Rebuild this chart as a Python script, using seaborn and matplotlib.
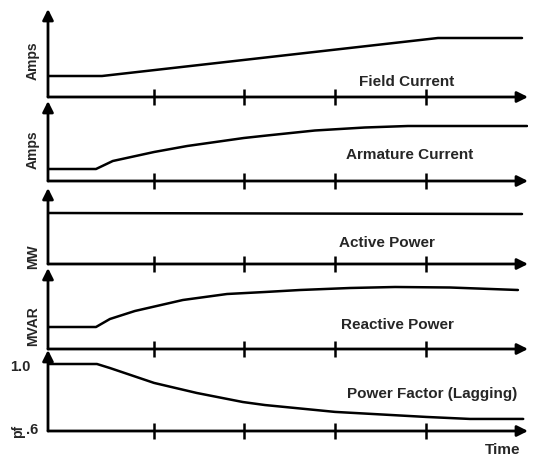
import numpy as np
import pandas as pd
import matplotlib
matplotlib.use("Agg")
import matplotlib.pyplot as plt
import seaborn as sns

sns.set_style("white")
plt.rcParams['font.family'] = ['Liberation Sans', 'DejaVu Sans']

# time axis in arbitrary units (0 .. 100)
tick_times = [22.1, 40.8, 59.8, 78.75]

# Field current (arbitrary amps)
field_t = [0, 11.25, 81.25, 98.75]
field_v = [21, 21, 59, 59]

# Armature current (arbitrary amps)
arm_t = [0, 10, 13.5, 22.1, 29, 40.8, 45.6, 55.6, 66, 75, 99.8]
arm_v = [12, 12, 20, 29, 35, 43, 45.5, 50.5, 53.5, 55, 55]

# Active power (MW, arbitrary)
mw_t = [0, 98.75]
mw_v = [51, 50]

# Reactive power (MVAR, arbitrary)
mvar_t = [0, 10, 12.9, 18.1, 28.1, 37.3, 45.2, 52.5, 62.9, 72.3, 83.75, 97.9]
mvar_v = [22, 22, 30, 38, 49, 55, 57, 59, 61, 62, 61.5, 59]

# Power factor
pf_t = [0, 10.2, 12.9, 22.1, 31, 40.6, 45.2, 59.8, 78.75, 87.9, 99]
pf_v = [1.0, 1.0, 0.976, 0.887, 0.827, 0.773, 0.755, 0.714, 0.684, 0.672, 0.672]

W, H = 535, 458
fig = plt.figure(figsize=(5.35, 4.58), dpi=100)

# (x-axis pixel row, arrow tip pixel row) for each panel
panel_px = [(97, 9), (181, 101), (264, 188), (349, 268), (431, 350)]
x0_px, x1_px = 48, 528

series = [
    (field_t, field_v, (0, 88), "Field Current", (74.8, 15), "Amps", 0.41),
    (arm_t, arm_v, (0, 80), "Armature Current", (75.4, 26), "Amps", 0.39),
    (mw_t, mw_v, (0, 76), "Active Power", (70.6, 21), "MW", 0.10),
    (mvar_t, mvar_v, (0, 81), "Reactive Power", (72.9, 24), "MVAR", 0.28),
    (pf_t, pf_v, (0.6, 0.6 + 81 * 0.4 / 67), "Power Factor (Lagging)", (80, 0.821), "pf", 0.0),
]

axes = []
for (base, tip), (t, v, ylim, title, tpos, ylab, yfrac) in zip(panel_px, series):
    ax = fig.add_axes([x0_px / W, (H - base) / H, (x1_px - x0_px) / W, (base - tip) / H])
    ax.patch.set_alpha(0)
    df = pd.DataFrame({"t": t, "v": v})
    sns.lineplot(data=df, x="t", y="v", ax=ax, color="black", lw=1.8)
    ax.set_xlim(0, 100)
    ax.set_ylim(*ylim)
    ax.set_xlabel("")
    ax.set_ylabel("")
    for s in ax.spines.values():
        s.set_visible(False)
    ax.set_yticks([])
    ax.set_xticks(tick_times)
    ax.set_xticklabels([])
    ax.tick_params(axis="x", bottom=True, direction="inout", length=11, width=1.8, color="black")
    arrow = dict(arrowstyle="-|>", mutation_scale=16, lw=2, color="black", shrinkA=0, shrinkB=0)
    ax.annotate("", xy=(1, 0), xytext=(0, 0), xycoords="axes fraction", arrowprops=arrow, annotation_clip=False)
    ax.annotate("", xy=(0, 1), xytext=(0, 0), xycoords="axes fraction", arrowprops=arrow, annotation_clip=False)
    ax.text(tpos[0], tpos[1], title, ha="center", va="center", fontsize=11, fontweight="bold")
    lx = -0.032 if ylab != "pf" else -0.062
    ax.text(lx, yfrac, ylab, transform=ax.transAxes, rotation=90, ha="center", va="center",
            fontsize=10, fontweight="bold")
    axes.append(ax)

pf_ax = axes[-1]
pf_ax.text(-0.037, 0.98, "1.0", transform=pf_ax.get_yaxis_transform(), ha="right", va="center",
           fontsize=10.5, fontweight="bold")
pf_ax.text(-0.021, 0.604, ".6", transform=pf_ax.get_yaxis_transform(), ha="right", va="center",
           fontsize=10.5, fontweight="bold")
pf_ax.text(94.8, -0.23, "Time", transform=pf_ax.get_xaxis_transform(), ha="center", va="center",
           fontsize=11, fontweight="bold")

fig.savefig("out.png", dpi=100, facecolor="white")
